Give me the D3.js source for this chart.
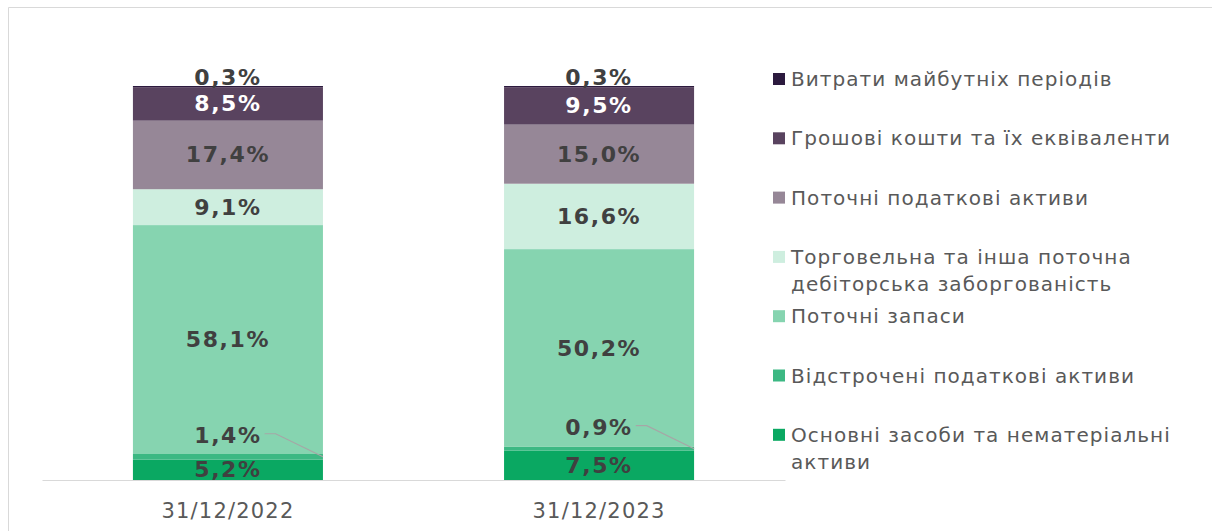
<!DOCTYPE html>
<html>
<head>
<meta charset="utf-8">
<script src="https://cdn.jsdelivr.net/npm/d3@7"></script>
<style>
  html, body { margin: 0; background: #fff; overflow: hidden; }
  svg { display: block; }
</style>
</head>
<body>
<div id="chart"></div>
<script>
// periods on the x axis
const periods = ["31/12/2022", "31/12/2023"];

// series, bottom of the stack first
const seriesNames = [
  "Основні засоби та нематеріальні активи",
  "Відстрочені податкові активи",
  "Поточні запаси",
  "Торговельна та інша поточна дебіторська заборгованість",
  "Поточні податкові активи",
  "Грошові кошти та їх еквіваленти",
  "Витрати майбутніх періодів",
];
const fixedAssets = [5.2, 7.5];
const deferredTax = [1.4, 0.9];
const inventories = [58.1, 50.2];
const receivables = [9.1, 16.6];
const currentTax = [17.4, 15.0];
const cash = [8.5, 9.5];
const prepaid = [0.3, 0.3];
const seriesValues = [fixedAssets, deferredTax, inventories, receivables, currentTax, cash, prepaid];

const colors = ["#0aa862", "#3cb883", "#86d4b0", "#ceeedf", "#968797", "#59435f", "#2c1a3e"];

// legend text lines (wrapped as in the picture)
const legendLines = [
  ["Основні засоби та нематеріальні", "активи"],
  ["Відстрочені податкові активи"],
  ["Поточні запаси"],
  ["Торговельна та інша поточна", "дебіторська заборгованість"],
  ["Поточні податкові активи"],
  ["Грошові кошти та їх еквіваленти"],
  ["Витрати майбутніх періодів"],
];

const width = 1212;
const height = 531;
const font = "'DejaVu Sans', Verdana, sans-serif";

const rows = periods.map((p, i) => {
  const row = { period: p };
  seriesNames.forEach((name, s) => (row[name] = seriesValues[s][i]));
  return row;
});

const stacked = d3.stack().keys(seriesNames)(rows);

const svg = d3
  .select("#chart")
  .append("svg")
  .attr("width", width)
  .attr("height", height)
  .attr("viewBox", [0, 0, width, height])
  .style("overflow", "hidden");

// frame (only left and top are visible in the picture)
svg
  .append("path")
  .attr("d", `M8.5,${height}V7.5H${width}`)
  .attr("fill", "none")
  .attr("stroke", "#d9d9d9")
  .attr("stroke-width", 1);

const x = d3
  .scaleBand()
  .domain(periods)
  .range([42, 785])
  .paddingInner(0.488)
  .paddingOuter(0.245);

const y = d3.scaleLinear().domain([0, 100]).range([480, 86]);

// bars
const layer = svg
  .append("g")
  .selectAll("g")
  .data(stacked)
  .join("g")
  .attr("fill", (d, i) => colors[i]);

layer
  .selectAll("rect")
  .data((d) => d)
  .join("rect")
  .attr("x", (d) => x(d.data.period))
  .attr("y", (d) => y(d[1]))
  .attr("width", x.bandwidth())
  .attr("height", (d) => y(d[0]) - y(d[1]));

// x axis
const xAxis = svg
  .append("g")
  .attr("transform", `translate(0,${y(0)})`)
  .call(d3.axisBottom(x).tickSize(0).tickPadding(23));
xAxis.select(".domain").attr("stroke", "#d9d9d9").attr("stroke-width", 1.2);
xAxis
  .selectAll("text")
  .attr("font-family", font)
  .attr("font-size", 21)
  .attr("letter-spacing", 1.2)
  .attr("fill", "#595959");

// value labels
const fmt = (v) => d3.format(".1f")(v).replace(".", ",") + "%";
const labels = svg
  .append("g")
  .attr("font-family", font)
  .attr("font-weight", "bold")
  .attr("font-size", 22)
  .attr("letter-spacing", 1.6);

stacked.forEach((series, s) => {
  series.forEach((d) => {
    const cx = x(d.data.period) + x.bandwidth() / 2;
    const mid = (y(d[0]) + y(d[1])) / 2;
    let ly = mid;
    if (s === seriesNames.length - 1) ly = y(d[1]) - 9;
    if (s === 1) {
      ly = mid - 21;
      const t = labels
        .append("text")
        .attr("x", cx)
        .attr("y", ly)
        .attr("text-anchor", "middle")
        .attr("dominant-baseline", "central")
        .attr("fill", "#404040")
        .text(fmt(d[1] - d[0]));
      const bb = t.node().getBBox();
      const sx = bb.x + bb.width + 3;
      svg
        .append("polyline")
        .attr("points", [[sx, ly - 2], [sx + 11, ly - 2], [x(d.data.period) + x.bandwidth(), mid]].join(" "))
        .attr("fill", "none")
        .attr("stroke", "#a6a6a6")
        .attr("stroke-width", 1.2);
      return;
    }
    labels
      .append("text")
      .attr("x", cx)
      .attr("y", ly)
      .attr("text-anchor", "middle")
      .attr("dominant-baseline", "central")
      .attr("fill", s === 5 ? "#ffffff" : "#404040")
      .text(fmt(d[1] - d[0]));
  });
});

// legend, top entry = last series
const legend = svg
  .append("g")
  .attr("font-family", font)
  .attr("font-size", 20)
  .attr("letter-spacing", 1.05);
const order = d3.range(seriesNames.length).reverse();
order.forEach((s, k) => {
  const ly = 79 + k * 59.3;
  legend
    .append("rect")
    .attr("x", 773)
    .attr("y", ly - 6)
    .attr("width", 12)
    .attr("height", 12)
    .attr("fill", colors[s]);
  legendLines[s].forEach((line, j) => {
    legend
      .append("text")
      .attr("x", 791)
      .attr("y", ly + j * 27)
      .attr("dominant-baseline", "central")
      .attr("fill", "#595959")
      .text(line);
  });
});
</script>
</body>
</html>
